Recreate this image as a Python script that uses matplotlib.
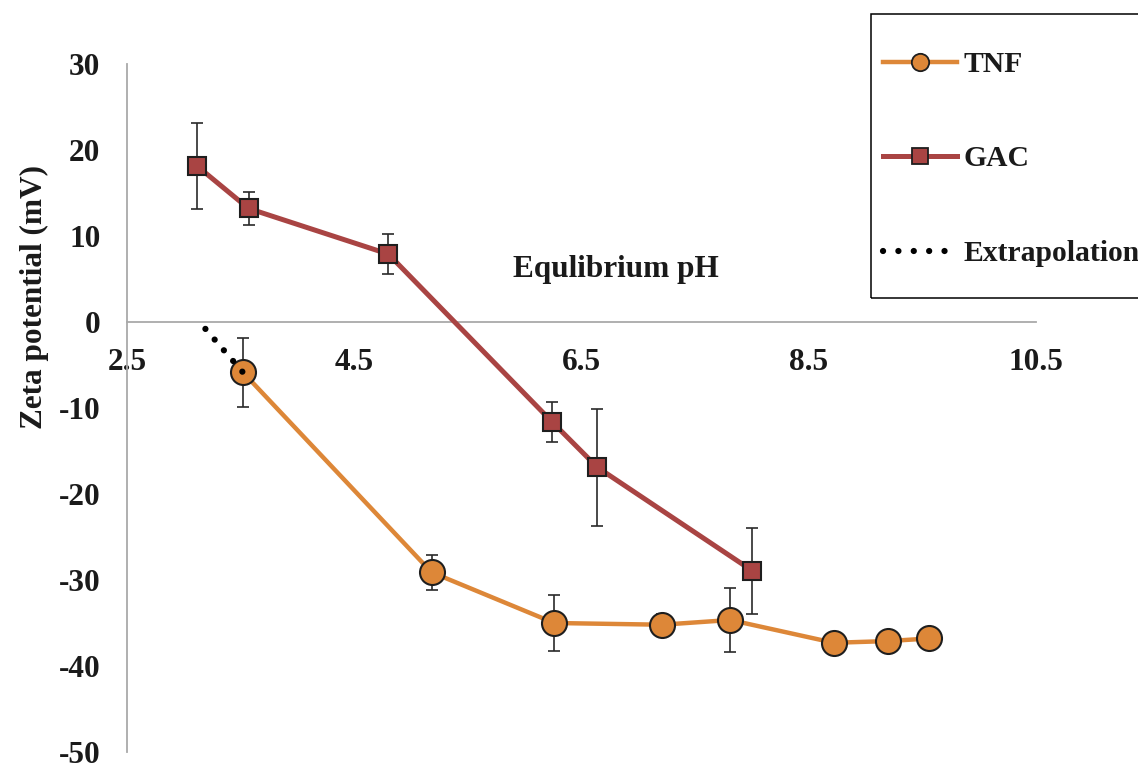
import matplotlib
matplotlib.use("Agg")
import matplotlib.pyplot as plt
from matplotlib.lines import Line2D
from matplotlib.patches import Rectangle

plt.rcParams['font.family'] = ['Liberation Serif', 'DejaVu Serif']
plt.rcParams['font.weight'] = 'bold'

# Zeta potential vs equilibrium pH
gac_ph = [3.12, 3.57, 4.80, 6.24, 6.64, 8.00]
gac_zeta = [18.1, 13.2, 7.9, -11.6, -16.9, -28.9]
gac_err = [5.0, 1.9, 2.3, 2.3, 6.8, 5.0]

tnf_ph = [3.52, 5.18, 6.26, 7.21, 7.81, 8.72, 9.20, 9.56]
tnf_zeta = [-5.85, -29.1, -35.0, -35.2, -34.65, -37.3, -37.1, -36.8]
tnf_err = [4.0, 2.05, 3.2, 1.3, 3.75, 0.0, 0.0, 0.0]

extrap_ph = [3.19, 3.52]
extrap_zeta = [-0.8, -5.85]

x_ticks = [2.5, 4.5, 6.5, 8.5, 10.5]
y_ticks = [30, 20, 10, 0, -10, -20, -30, -40, -50]

ORANGE = '#DD8738'
RED = '#A94443'
EDGE = '#1e1e1e'
TXT = '#1a1a1a'
AXIS_GREY = '#a9a9a9'
FS = 22.5
LEG_FS = 21.3

W, H = 1138, 767
fig = plt.figure(figsize=(W / 100, H / 100), dpi=100)
ax = fig.add_axes([127 / W, 1 - 752 / H, (1036 - 127) / W, (752 - 64) / H])

ax.set_xlim(2.5, 10.5)
ax.set_ylim(-50, 30)

# GAC series
ax.errorbar(gac_ph, gac_zeta, yerr=gac_err, fmt='none', ecolor='#2a2a2a',
            elinewidth=1.2, capsize=4.5, capthick=1.2, zorder=3)
ax.plot(gac_ph, gac_zeta, color=RED, lw=3.6, marker='s', ms=13.5,
        mfc=RED, mec=EDGE, mew=1.5, zorder=4)

# TNF series
tnf_eb_x = [p for p, e in zip(tnf_ph, tnf_err) if e > 0]
tnf_eb_y = [z for z, e in zip(tnf_zeta, tnf_err) if e > 0]
tnf_eb_e = [e for e in tnf_err if e > 0]
ax.errorbar(tnf_eb_x, tnf_eb_y, yerr=tnf_eb_e, fmt='none', ecolor='#2a2a2a',
            elinewidth=1.2, capsize=4.5, capthick=1.2, zorder=3)
ax.plot(tnf_ph, tnf_zeta, color=ORANGE, lw=3.2, marker='o', ms=18,
        mfc=ORANGE, mec=EDGE, mew=1.5, zorder=4)

# Extrapolation towards the zero crossing
ax.plot(extrap_ph, extrap_zeta, color='black', lw=4.5,
        linestyle=(0, (0.01, 2.25)), dash_capstyle='round', zorder=5)

# Axes styling
for side in ('top', 'right'):
    ax.spines[side].set_visible(False)
ax.spines['bottom'].set_position(('data', 0))
for side in ('left', 'bottom'):
    ax.spines[side].set_color(AXIS_GREY)
    ax.spines[side].set_linewidth(1.3)

ax.set_xticks(x_ticks)
ax.set_xticklabels([f'{v:g}' for v in x_ticks])
ax.set_yticks(y_ticks)
ax.set_yticklabels([f'{v:d}' for v in y_ticks])
ax.tick_params(axis='x', length=0, pad=19, labelsize=FS, labelcolor=TXT)
ax.tick_params(axis='y', length=0, pad=19, labelsize=FS, labelcolor=TXT)
for lab in ax.get_xticklabels() + ax.get_yticklabels():
    lab.set_fontweight('bold')

ax.set_xlabel('Equlibrium pH', fontsize=FS, fontweight='bold', color=TXT,
              va='baseline')
ax.xaxis.set_label_coords((615.5 - 127) / 909, (752 - 277) / 688)
ax.set_ylabel('Zeta potential (mV)', fontsize=FS, fontweight='bold',
              color=TXT, va='center')
ax.yaxis.set_label_coords((34 - 127) / 909, (752 - 297) / 688)

# Legend with its own frame
frame = Rectangle((871 / W, 1 - 298 / H), (1140 - 871) / W, (298 - 14) / H,
                  transform=fig.transFigure, fill=False, ec='black', lw=1.1)
fig.patches.append(frame)

handles = [
    Line2D([], [], color=ORANGE, lw=3.2, marker='o', ms=12.5, mfc=ORANGE,
           mec=EDGE, mew=1.3),
    Line2D([], [], color=RED, lw=3.6, marker='s', ms=12, mfc=RED,
           mec=EDGE, mew=1.3),
    Line2D([], [], color='black', lw=4.5, linestyle=(0, (0.01, 2.45)),
           dash_capstyle='round'),
]
labels = ['TNF', 'GAC', 'Extrapolation']
fig.legend(handles, labels, loc='upper left',
           bbox_to_anchor=(883 / W, 1 - 51 / H), frameon=False,
           borderpad=0, borderaxespad=0, handlelength=2.5,
           handletextpad=0.22, labelspacing=2.28,
           prop={'family': 'Liberation Serif', 'weight': 'bold',
                 'size': LEG_FS},
           labelcolor=TXT)

fig.savefig('out.png', dpi=100)
